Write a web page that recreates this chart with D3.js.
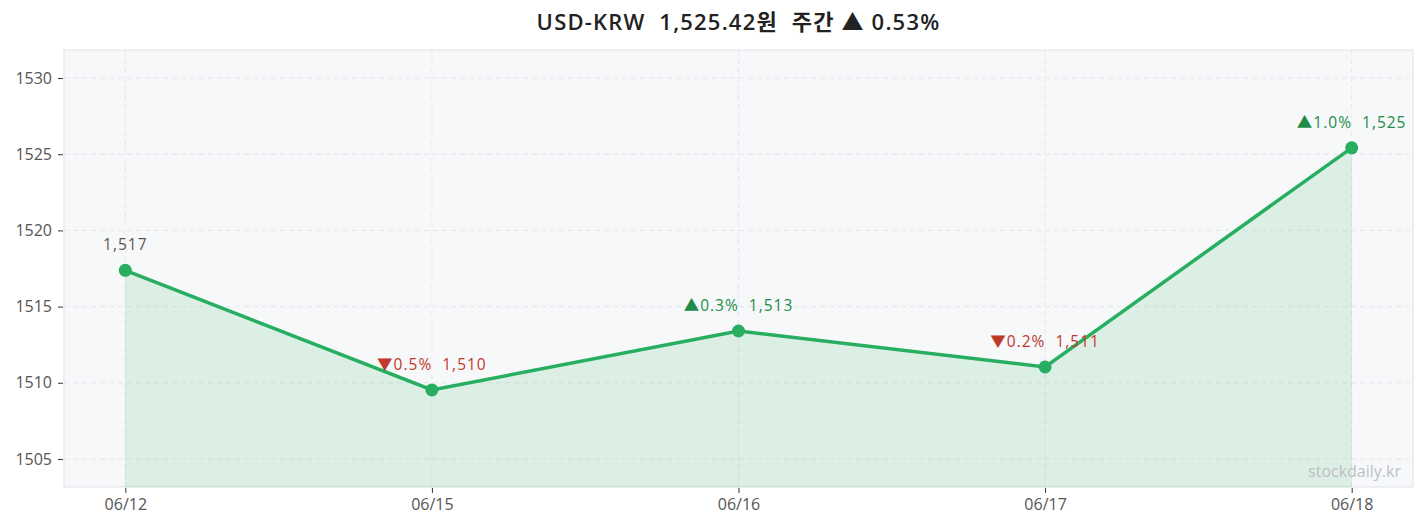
<!DOCTYPE html>
<html lang="ko">
<head>
<meta charset="UTF-8">
<title>USD-KRW</title>
<script src="https://d3js.org/d3.v7.min.js"></script>
<style>
  body { margin: 0; background: #fff; }
  text { font-family: "Open Sans", "Noto Sans CJK KR", sans-serif; white-space: pre; }
</style>
</head>
<body>
<svg id="chart" width="1426" height="527"></svg>
<script>
// data
const dates  = ["06/12", "06/15", "06/16", "06/17", "06/18"];
const rates  = [1517.38, 1509.53, 1513.40, 1511.04, 1525.42];
const yTicks = [1505, 1510, 1515, 1520, 1525, 1530];

const W = 1426, H = 527;
const m = {top: 50, right: 13, bottom: 40, left: 64};
const svg = d3.select("#chart");

const x = d3.scalePoint().domain(dates).range([m.left, W - m.right]).padding(0.2);
const y = d3.scaleLinear().domain([1503.16, 1531.84]).range([H - m.bottom, m.top]);

// title, centred on the plot area
svg.append("text")
  .attr("x", (m.left + W - m.right) / 2).attr("y", 30)
  .attr("text-anchor", "middle")
  .attr("font-size", 22).attr("font-weight", 600).attr("fill", "#222")
  .attr("letter-spacing", 1.2)
  .text("USD-KRW  1,525.42원  주간 ▲ 0.53%");

// plot background
svg.append("rect")
  .attr("x", m.left).attr("y", m.top)
  .attr("width", W - m.left - m.right).attr("height", H - m.top - m.bottom)
  .attr("fill", "#f7f8fa").attr("stroke", "#dfe1e6");

// grid
svg.append("g").selectAll("line").data(yTicks).join("line")
  .attr("x1", m.left).attr("x2", W - m.right)
  .attr("y1", d => y(d)).attr("y2", d => y(d))
  .attr("stroke", "#e6e7ea").attr("stroke-dasharray", "5,4");
svg.append("g").selectAll("line").data(dates).join("line")
  .attr("x1", d => x(d)).attr("x2", d => x(d))
  .attr("y1", m.top).attr("y2", H - m.bottom)
  .attr("stroke", "#e6e7ea").attr("stroke-dasharray", "5,4");

const pts = dates.map((d, i) => ({d: d, v: rates[i], prev: i ? rates[i - 1] : null}));

// area + line
svg.append("path").datum(pts)
  .attr("fill", "#27ae60").attr("fill-opacity", 0.13)
  .attr("stroke", "#27ae60").attr("stroke-opacity", 0.08)
  .attr("d", d3.area().x(p => x(p.d)).y0(H - m.bottom).y1(p => y(p.v)));
svg.append("path").datum(pts)
  .attr("fill", "none").attr("stroke", "#27ae60").attr("stroke-width", 3.5)
  .attr("d", d3.line().x(p => x(p.d)).y(p => y(p.v)));

svg.append("g").selectAll("circle").data(pts).join("circle")
  .attr("cx", p => x(p.d)).attr("cy", p => y(p.v)).attr("r", 6.5)
  .attr("fill", "#27ae60");

// point labels
const fmt = d3.format(",.0f");
svg.append("g").selectAll("text").data(pts).join("text")
  .attr("x", p => x(p.d)).attr("y", p => y(p.v) - 20)
  .attr("text-anchor", "middle").attr("font-size", 15.5).attr("letter-spacing", 1)
  .attr("fill", p => p.prev == null ? "#555" : (p.v >= p.prev ? "#1e8c45" : "#c0392b"))
  .text(p => {
    if (p.prev == null) return fmt(p.v);
    const pct = (p.v / p.prev - 1) * 100;
    return (pct >= 0 ? "▲" : "▼") + Math.abs(pct).toFixed(1) + "%  " + fmt(p.v);
  });

// axes
const yAxis = svg.append("g").attr("transform", `translate(${m.left - 1},0)`)
  .call(d3.axisLeft(y).tickValues(yTicks).tickSize(5).tickPadding(6).tickFormat(d3.format("d")));
const xAxis = svg.append("g").attr("transform", `translate(0,${H - m.bottom + 1})`)
  .call(d3.axisBottom(x).tickSize(5).tickPadding(6));
[yAxis, xAxis].forEach(a => {
  a.select(".domain").remove();
  a.selectAll("line").attr("stroke", "#333");
  a.selectAll("text").attr("font-size", 16).attr("fill", "#555")
    .attr("font-family", "\"Open Sans\", \"Noto Sans CJK KR\", sans-serif");
});

// watermark
svg.append("text")
  .attr("x", W - m.right - 12).attr("y", H - m.bottom - 10)
  .attr("text-anchor", "end").attr("font-size", 16).attr("fill", "#bcc0c4")
  .text("stockdaily.kr");
</script>
</body>
</html>
